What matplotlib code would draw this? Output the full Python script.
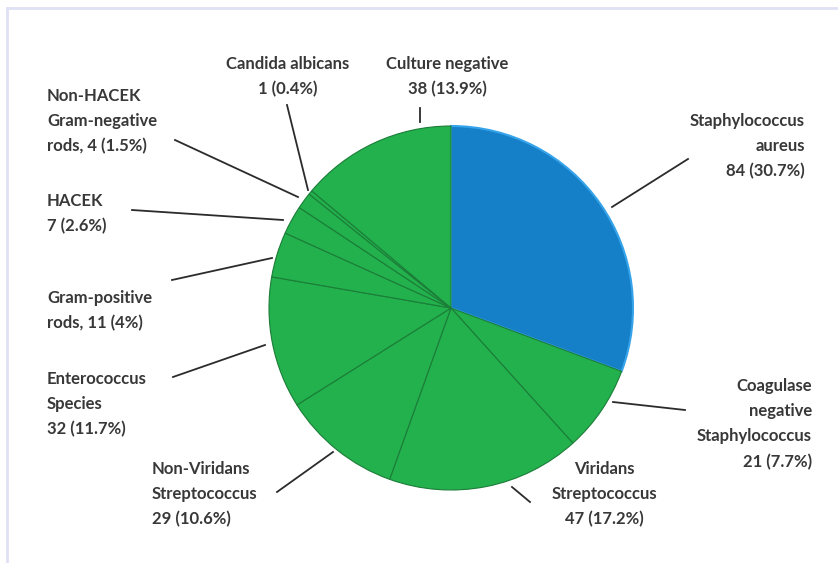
import matplotlib.pyplot as plt
from matplotlib.lines import Line2D

# organisms, clockwise from 12 o'clock
names = ['Staphylococcus\naureus', 'Coagulase\nnegative\nStaphylococcus',
         'Viridans\nStreptococcus', 'Non-Viridans\nStreptococcus',
         'Enterococcus\nSpecies', 'Gram-positive\nrods,', 'HACEK',
         'Non-HACEK\nGram-negative\nrods,', 'Candida albicans', 'Culture negative']
counts = [84, 21, 47, 29, 32, 11, 7, 4, 1, 38]
colors = ['#1580c8'] + ['#22b14c'] * 9

total = sum(counts)

def make_label(name, n):
    pct = f"{100 * n / total:.1f}".replace('.0', '')
    sep = ' ' if name.endswith(',') else '\n'
    return f"{name}{sep}{n} ({pct}%)"

labels = [make_label(a, b) for a, b in zip(names, counts)]

# label layout in pixel coords (x, cap top from top), alignment, leader line
layout = [
    (805, 115, 'right', [(612, 207), (688, 159)]),
    (812, 380, 'right', [(613, 402), (685, 410)]),
    (604, 463, 'center', [(512, 487), (530, 502)]),
    (152, 463, 'left', [(277, 492), (333, 452)]),
    (47, 373, 'left', [(173, 377), (265, 345)]),
    (47, 292, 'left', [(172, 280), (272, 258)]),
    (47, 195, 'left', [(132, 210), (283, 220)]),
    (47, 90, 'left', [(175, 140), (298, 197)]),
    (288, 58, 'center', [(287, 105), (308, 190)]),
    (447, 58, 'center', [(420, 108), (420, 122)]),
]

H = 563
fig = plt.figure(figsize=(8.38, 5.63), dpi=100)
ax = fig.add_axes([0, 0, 1, 1])

# light frame round the picture
ax.add_line(Line2D([7, 838], [H - 8, H - 8], color='#dfe1f4', lw=2))
ax.add_line(Line2D([7, 7], [0, H - 8], color='#dfe1f4', lw=2))

wedges, _ = ax.pie(counts, colors=colors, startangle=90, counterclock=False,
                   center=(451, H - 308), radius=182,
                   wedgeprops=dict(edgecolor='#1b7d38', linewidth=0.8))
wedges[0].set_edgecolor('#35a3ea')
wedges[0].set_linewidth(1.5)
ax.set_xlim(0, 838)
ax.set_ylim(0, H)
ax.set_aspect('equal')
ax.axis('off')

for lab, (x, y, ha, line) in zip(labels, layout):
    ax.text(x, H - y + 2, lab, ha=ha, va='top', multialignment=ha,
            fontsize=12, fontweight='bold', family=['Lato', 'DejaVu Sans'],
            color='#383838', linespacing=1.7)
    xs = [p[0] for p in line]
    ys = [H - p[1] for p in line]
    ax.plot(xs, ys, color='#2b2b2b', lw=1.3)

fig.savefig('out.png', dpi=100)
